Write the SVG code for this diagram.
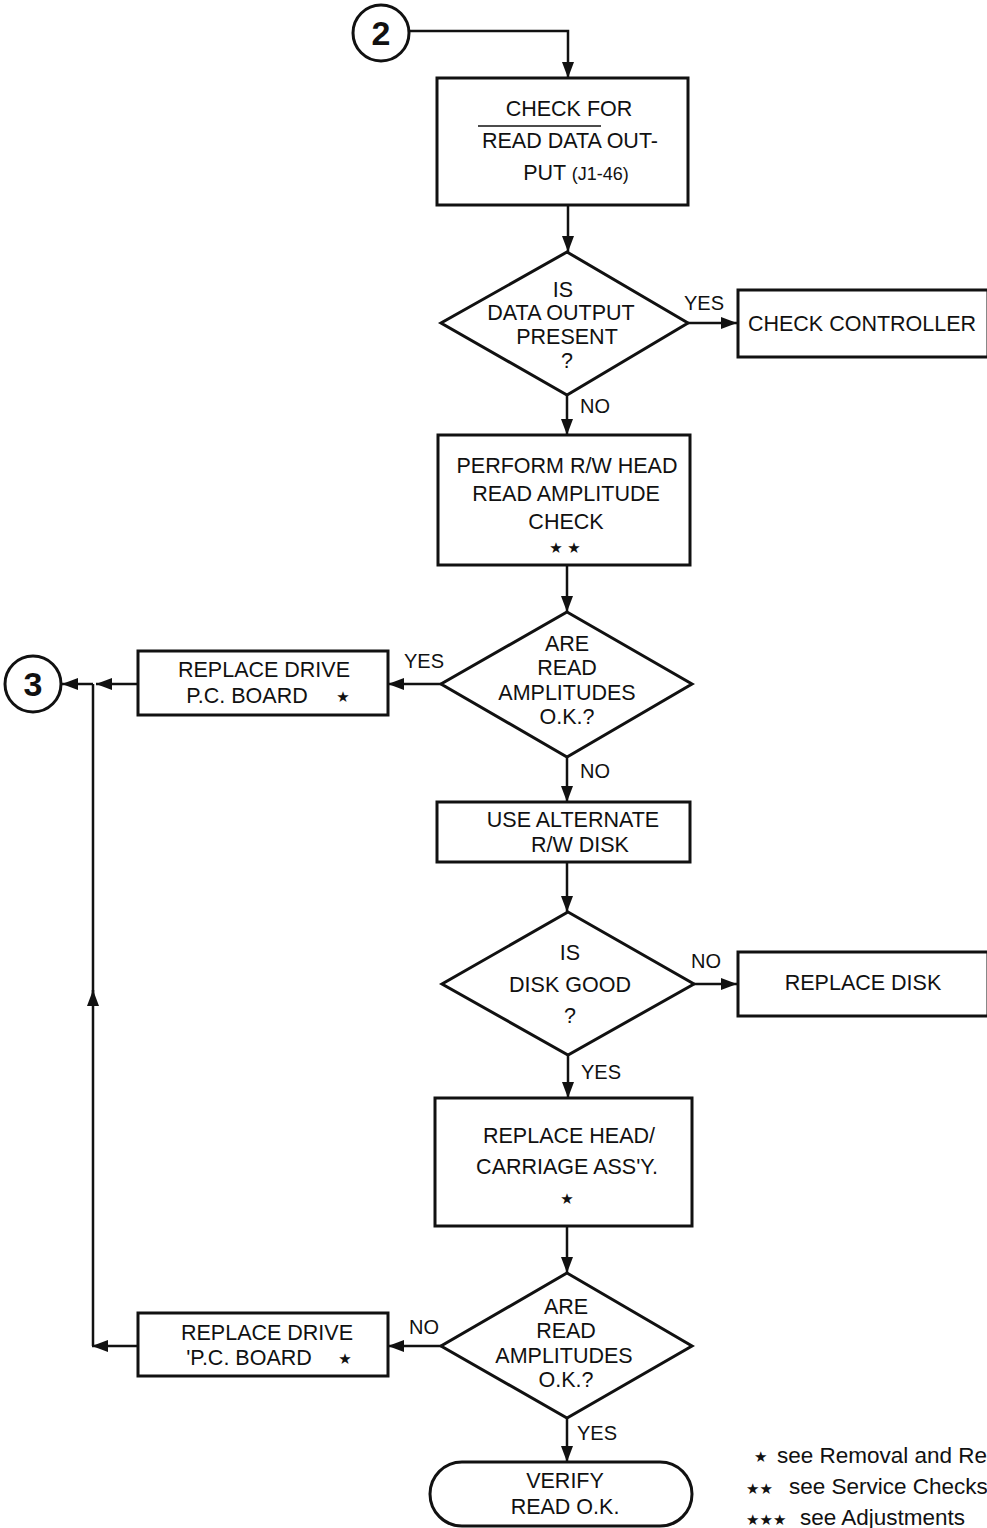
<svg xmlns="http://www.w3.org/2000/svg" width="987" height="1528" viewBox="0 0 987 1528">
<defs>
<style>
.box{fill:#fff;stroke:#111;stroke-width:3}
.c{fill:none;stroke:#111;stroke-width:2.5}
.t{font-family:"Liberation Sans",Arial,sans-serif;font-size:21.5px;fill:#111;text-anchor:middle}
.l{font-family:"Liberation Sans",Arial,sans-serif;font-size:20px;fill:#111}
.s{font-family:"DejaVu Sans",sans-serif;font-size:15px;fill:#111}
.n{font-family:"Liberation Sans Narrow","Liberation Sans",Arial,sans-serif;font-size:34px;font-weight:bold;fill:#111;text-anchor:middle}
.g{font-family:"Liberation Sans",Arial,sans-serif;font-size:22.5px;fill:#111}
</style>
<marker id="ah" markerUnits="userSpaceOnUse" markerWidth="16" markerHeight="12" refX="16" refY="6" orient="auto">
<path d="M0,0 L16,6 L0,12 z" fill="#111"/>
</marker>
</defs>
<rect width="987" height="1528" fill="#fff"/>

<g id="connectors">
<path class="c" d="M410,31 H568 V78" marker-end="url(#ah)"/>
<path class="c" d="M568,205 V252" marker-end="url(#ah)"/>
<path class="c" d="M688,323 H737" marker-end="url(#ah)"/>
<path class="c" d="M567,395 V435" marker-end="url(#ah)"/>
<path class="c" d="M567,565 V612" marker-end="url(#ah)"/>
<path class="c" d="M441,684 H388" marker-end="url(#ah)"/>
<path class="c" d="M138,684 H96" marker-end="url(#ah)"/>
<path class="c" d="M93,684 H62" marker-end="url(#ah)"/>
<path class="c" d="M93,1346 V990" marker-end="url(#ah)"/>
<path class="c" d="M93,995 V684"/>
<path class="c" d="M567,757 V802" marker-end="url(#ah)"/>
<path class="c" d="M567,862 V912" marker-end="url(#ah)"/>
<path class="c" d="M694,984 H737" marker-end="url(#ah)"/>
<path class="c" d="M568,1055 V1098" marker-end="url(#ah)"/>
<path class="c" d="M567,1226 V1273" marker-end="url(#ah)"/>
<path class="c" d="M441,1346 H388" marker-end="url(#ah)"/>
<path class="c" d="M138,1346 H92" marker-end="url(#ah)"/>
<path class="c" d="M567,1418 V1462" marker-end="url(#ah)"/>
<text class="l" x="684" y="310">YES</text>
<text class="l" x="580" y="413">NO</text>
<text class="l" x="404" y="668">YES</text>
<text class="l" x="580" y="778">NO</text>
<text class="l" x="691" y="968">NO</text>
<text class="l" x="581" y="1079">YES</text>
<text class="l" x="409" y="1334">NO</text>
<text class="l" x="577" y="1440">YES</text>
</g>

<g id="conn2">
<circle cx="381" cy="33" r="28" fill="#fff" stroke="#111" stroke-width="3"/>
<text class="n" x="381" y="45">2</text>
</g>

<g id="check-read-data">
<rect class="box" x="437" y="78" width="251" height="127"/>
<text class="t" x="569" y="116">CHECK FOR</text>
<text class="t" x="570" y="148">READ DATA OUT-</text>
<line x1="478" y1="126" x2="601" y2="126" stroke="#111" stroke-width="1.5"/>
<text class="t" x="576" y="180">PUT <tspan font-size="18">(J1-46)</tspan></text>
</g>

<g id="data-output-present">
<polygon class="box" points="567,252 688,323 567,395 441,323"/>
<text class="t" x="563" y="297">IS</text>
<text class="t" x="561" y="320">DATA OUTPUT</text>
<text class="t" x="567" y="344">PRESENT</text>
<text class="t" x="567" y="368" font-size="19">?</text>
</g>

<g id="check-controller">
<rect class="box" x="738" y="290" width="250" height="67"/>
<text class="t" x="862" y="331" font-size="22">CHECK CONTROLLER</text>
</g>

<g id="perform-check">
<rect class="box" x="438" y="435" width="252" height="130"/>
<text class="t" x="567" y="473">PERFORM R/W HEAD</text>
<text class="t" x="566" y="501">READ AMPLITUDE</text>
<text class="t" x="566" y="529">CHECK</text>
<text class="s" x="565" y="553" text-anchor="middle">★ ★</text>
</g>

<g id="amplitudes-ok-1">
<polygon class="box" points="567,612 692,684 567,757 441,684"/>
<text class="t" x="567" y="651">ARE</text>
<text class="t" x="567" y="675">READ</text>
<text class="t" x="567" y="700">AMPLITUDES</text>
<text class="t" x="567" y="724" font-size="19">O.K.?</text>
</g>

<g id="replace-board-1">
<rect class="box" x="138" y="651" width="250" height="64"/>
<text class="t" x="264" y="677">REPLACE DRIVE</text>
<text class="t" x="247" y="703">P.C. BOARD</text>
<text class="s" x="343" y="702" text-anchor="middle">★</text>
</g>

<g id="conn3">
<circle cx="33" cy="684" r="28" fill="#fff" stroke="#111" stroke-width="3"/>
<text class="n" x="33" y="696">3</text>
</g>

<g id="use-alternate">
<rect class="box" x="437" y="802" width="253" height="60"/>
<text class="t" x="573" y="827">USE ALTERNATE</text>
<text class="t" x="580" y="852">R/W DISK</text>
</g>

<g id="disk-good">
<polygon class="box" points="568,912 694,984 568,1055 442,984"/>
<text class="t" x="570" y="960">IS</text>
<text class="t" x="570" y="992">DISK GOOD</text>
<text class="t" x="570" y="1023" font-size="19">?</text>
</g>

<g id="replace-disk">
<rect class="box" x="738" y="952" width="250" height="64"/>
<text class="t" x="863" y="990">REPLACE DISK</text>
</g>

<g id="replace-head">
<rect class="box" x="435" y="1098" width="257" height="128"/>
<text class="t" x="569" y="1143">REPLACE HEAD/</text>
<text class="t" x="567" y="1174">CARRIAGE ASS'Y.</text>
<text class="s" x="567" y="1204" text-anchor="middle">★</text>
</g>

<g id="amplitudes-ok-2">
<polygon class="box" points="567,1273 692,1346 567,1418 441,1346"/>
<text class="t" x="566" y="1314">ARE</text>
<text class="t" x="566" y="1338">READ</text>
<text class="t" x="564" y="1363">AMPLITUDES</text>
<text class="t" x="566" y="1387" font-size="19">O.K.?</text>
</g>

<g id="replace-board-2">
<rect class="box" x="138" y="1313" width="250" height="63"/>
<text class="t" x="267" y="1340">REPLACE DRIVE</text>
<text class="t" x="249" y="1365">'P.C. BOARD</text>
<text class="s" x="345" y="1364" text-anchor="middle">★</text>
</g>

<g id="verify">
<rect class="box" x="430" y="1462" width="262" height="64" rx="32" ry="32"/>
<text class="t" x="565" y="1488">VERIFY</text>
<text class="t" x="565" y="1514">READ O.K.</text>
</g>

<g id="legend">
<text class="s" x="754" y="1462">★</text>
<text class="g" x="777" y="1463">see Removal and Re</text>
<text class="s" x="746" y="1494">★★</text>
<text class="g" x="789" y="1494">see Service Checks</text>
<text class="s" x="746" y="1525">★★★</text>
<text class="g" x="800" y="1525">see Adjustments</text>
</g>
</svg>
